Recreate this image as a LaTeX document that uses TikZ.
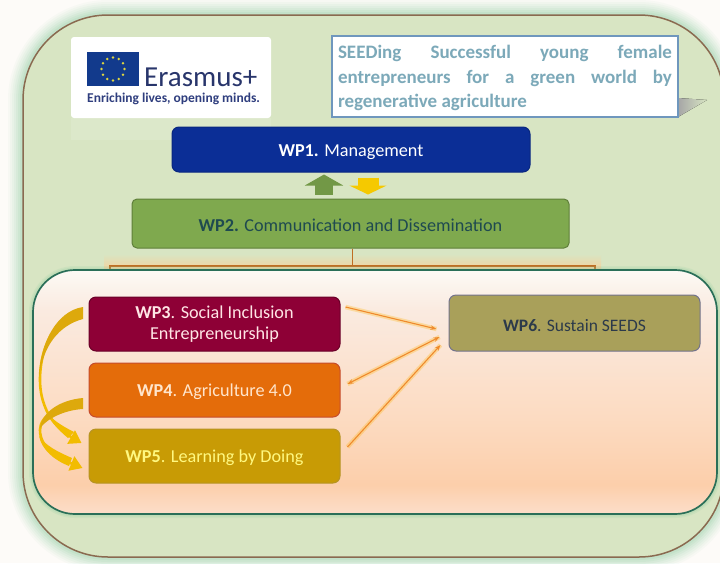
\documentclass[tikz,border=0pt]{standalone}
\usepackage{fontspec}
\setmainfont{Carlito}
\usetikzlibrary{arrows.meta,calc}
\definecolor{pagebg}{HTML}{FDFBF8}
\definecolor{outerfill}{HTML}{D8E5C3}
\definecolor{outerline}{HTML}{8A6A50}
\definecolor{glowgreen}{HTML}{8CCB9C}
\definecolor{innerline}{HTML}{2A6F58}
\definecolor{wpa}{HTML}{0B2E96}
\definecolor{wpb}{HTML}{7FA94E}
\definecolor{wpc}{HTML}{8E0036}
\definecolor{wpd}{HTML}{E46C0A}
\definecolor{wpe}{HTML}{C89B05}
\definecolor{wpf}{HTML}{A9A05A}
\definecolor{gold}{HTML}{F2BC00}
\definecolor{goldd}{HTML}{DDA90C}
\definecolor{thinor}{HTML}{EF8A2C}
\definecolor{titleline}{HTML}{6F97BD}
\definecolor{titletext}{HTML}{7CA9B9}
\definecolor{eublue}{HTML}{123A8C}
\definecolor{logotext}{HTML}{2F3E7E}
\definecolor{wpbtext}{HTML}{1F4A50}
\definecolor{wpftext}{HTML}{2C3A4A}
\definecolor{brglow}{HTML}{F8CF98}
\pgfdeclareverticalshading{peach}{100bp}{
 rgb(0bp)=(0.99,0.87,0.79);
 rgb(25bp)=(0.99,0.87,0.79);
 rgb(31bp)=(0.99,0.81,0.67);
 rgb(45bp)=(0.99,0.86,0.76);
 rgb(67bp)=(0.98,0.92,0.88);
 rgb(75bp)=(0.99,0.98,0.96);
 rgb(100bp)=(0.99,0.98,0.96)}
\tikzset{
 wpbox/.style={draw,rounded corners=7pt,line width=1pt,minimum width=251pt,minimum height=54pt,inner sep=0pt,align=center,font=\fontsize{18.2}{21}\selectfont},
 thinarrow/.style={draw=thinor,line width=1.1pt,-{Stealth[length=6pt,width=4.5pt]}},
 thinglow/.style={draw=orange!60!yellow,line width=4.5pt,opacity=.28},
 goldcurve/.style={draw=gold,line width=2.6pt},
 bracketline/.style={draw=thinor!80!black,line width=1.3pt}
}
\newcommand{\lowtext}[1]{\rule{0pt}{17pt}#1}
\begin{document}
\begin{tikzpicture}[x=1pt,y=-1pt]
\useasboundingbox (0,0) rectangle (720,563);
\fill[pagebg] (0,0) rectangle (720,563);
\clip (0,0) rectangle (720,563);
% outer panel with green glow
\foreach \w/\o in {30/.05,26/.06,22/.07,18/.08,14/.10,10/.12,6/.15}{
 \draw[glowgreen,line width=\w pt,opacity=\o,rounded corners=85pt] (23,15) rectangle (724,557);}
\draw[outerline,line width=1.5pt,fill=outerfill,rounded corners=85pt] (23,15) rectangle (724,557);
% logo
\node[fill=white,rounded corners=3pt,minimum width=200pt,minimum height=81pt,inner sep=0pt] (logo) at (171,77.5) {};
\fill[white,opacity=.12] (71,118) rectangle (271,140);
\node[fill=eublue,minimum width=52pt,minimum height=34pt,inner sep=0pt] (flag) at (113,69) {};
\foreach \a in {0,30,...,330}{\fill[yellow!70!gray] ($(flag)+(\a:11.5)$) circle (1.3pt);}
\node[anchor=west,inner sep=0pt,text=logotext!85!black,font=\fontsize{29}{30}\selectfont] (eras) at (144,77) {Erasmus+};
\node[anchor=west,inner sep=0pt,text=logotext,font=\fontsize{13.5}{15}\selectfont\bfseries] (rich) at (87,98.5) {Enriching lives, opening minds.};
% title box
\fill[left color=black!35,right color=outerfill] (678,98) -- (707,100) -- (678,117) -- cycle;
\node[draw=titleline,line width=1.5pt,fill=white,minimum width=346pt,minimum height=81pt,inner sep=0pt] (title) at (505,76.5) {\parbox{334pt}{\fontsize{19}{24.5}\selectfont\bfseries\color{titletext}%
\hbox to 334pt{\rule{0pt}{17pt}SEEDing\hfill Successful\hfill young\hfill female}%
\hbox to 334pt{entrepreneurs\hfill for\hfill a\hfill green\hfill world\hfill by}%
\hbox to 334pt{regenerative agriculture\hfill}}};
% WP1, WP2
\node[wpbox,draw=wpa!85!black,fill=wpa,text=white,minimum width=358pt,minimum height=45pt] (wp1) at (351,149.5) {\lowtext{\textbf{WP1.} Management}};
\node[wpbox,draw=wpb!75!black,fill=wpb,text=wpbtext,minimum width=437pt,minimum height=49pt,rounded corners=5pt] (wp2) at (350.5,223.5) {\lowtext{\textbf{WP2.} Communication and Dissemination}};
\draw[wpb!90!black,line width=18pt,-{Triangle[length=11pt,width=38pt]}] ($(wp2.north)+(-26.5,-4)$) -- ($(wp1.south)+(-27,2)$);
\draw[gold!80!yellow,line width=21pt,-{Triangle[length=9pt,width=37pt]}] ($(wp1.south)+(17,5)$) -- ($(wp2.north)+(17.5,-4)$);
% bracket
\coordinate (jn) at ($(wp2.south)+(1.5,18)$);
\coordinate (bl) at (110,272);
\coordinate (br) at (595,272);
\fill[top color=outerfill,bottom color=brglow] (104,254) rectangle (601,272);
\draw[bracketline] (bl) -- (110,266) -- (595,266) -- (br);
\draw[bracketline,line width=1pt] (wp2.south -| jn) -- (jn);
% inner panel
\foreach \w/\o in {8/.15,5/.2}{\draw[glowgreen,line width=\w pt,opacity=\o,rounded corners=42pt] (33,270) rectangle (717,514);}
\shade[shading=peach,rounded corners=42pt] (33,270) rectangle (717,514);
\draw[innerline,line width=1.7pt,rounded corners=42pt] (33,270) rectangle (717,514);
% WP3-6
\node[wpbox,draw=wpc!75!black,fill=wpc,text=red!10!white] (wp3) at (214.5,324) {\textbf{WP3}. Social Inclusion\\Entrepreneurship};
\node[wpbox,draw=wpd!70!violet,fill=wpd,text=orange!20!white] (wp4) at (214.5,390) {\lowtext{\textbf{WP4}. Agriculture 4.0}};
\node[wpbox,draw=wpe!75!gray,fill=wpe,text=yellow!50!white] (wp5) at (214.5,456) {\lowtext{\textbf{WP5}. Learning by Doing}};
\node[wpbox,draw=gray!90!blue,fill=wpf,text=wpftext,minimum height=56pt,font=\fontsize{17.5}{21}\selectfont] (wp6) at (574.5,323) {\lowtext{\textbf{WP6}. Sustain SEEDS}};
% thin arrows
\coordinate (s3) at ($(wp3.east)+(5,-17)$);
\coordinate (t3) at ($(wp6.west)+(-12,6)$);
\coordinate (s4) at ($(wp4.east)+(7,-6)$);
\coordinate (t4) at ($(wp6.west)+(-9,14)$);
\coordinate (s5) at ($(wp5.east)+(7,-9)$);
\coordinate (t5) at ($(wp6.west)+(-8,22)$);
\draw[thinglow] (s3) -- (t3);
\draw[thinglow] (s4) -- (t4);
\draw[thinglow] (s5) -- (t5);
\draw[thinarrow] (s3) -- (t3);
\draw[thinarrow,{Stealth[length=6pt,width=4.5pt]}-{Stealth[length=6pt,width=4.5pt]}] (s4) -- (t4);
\draw[thinarrow] (s5) -- (t5);
% gold curved arrows
\coordinate (a3) at ($(wp3.west)+(-6,-11)$);
\coordinate (a4) at ($(wp4.west)+(-6,13)$);
\coordinate (tipa) at ($(wp5.west)+(-7,-13)$);
\coordinate (tipb) at ($(wp5.west)+(-6,12)$);
\draw[goldcurve,-{Triangle[length=12pt,width=15pt]}] (a3) .. controls (55,316) and (40,347) .. (40,380) .. controls (40,403) and (50,425) .. (tipa);
\fill[goldd] (83,307) .. controls (56,311) and (39,345) .. (39,380) .. controls (42,345) and (60,325) .. (83,319) -- cycle;
\fill[gold] (45,410) .. controls (50,420) and (58,430) .. (68,438) -- (74,432) .. controls (60,425) and (50,418) .. (45,410) -- cycle;
\draw[goldcurve,-{Triangle[length=12pt,width=15pt]}] (a4) .. controls (60,405) and (40,415) .. (40,430) .. controls (40,448) and (58,458) .. (tipb);
\fill[goldd] (83,398) .. controls (60,400) and (42,412) .. (40,428) .. controls (48,418) and (65,410) .. (83,409) -- cycle;
\fill[gold] (39,436) .. controls (42,450) and (54,460) .. (69,466) -- (72,458) .. controls (58,452) and (46,446) .. (39,436) -- cycle;
\end{tikzpicture}
\end{document}
